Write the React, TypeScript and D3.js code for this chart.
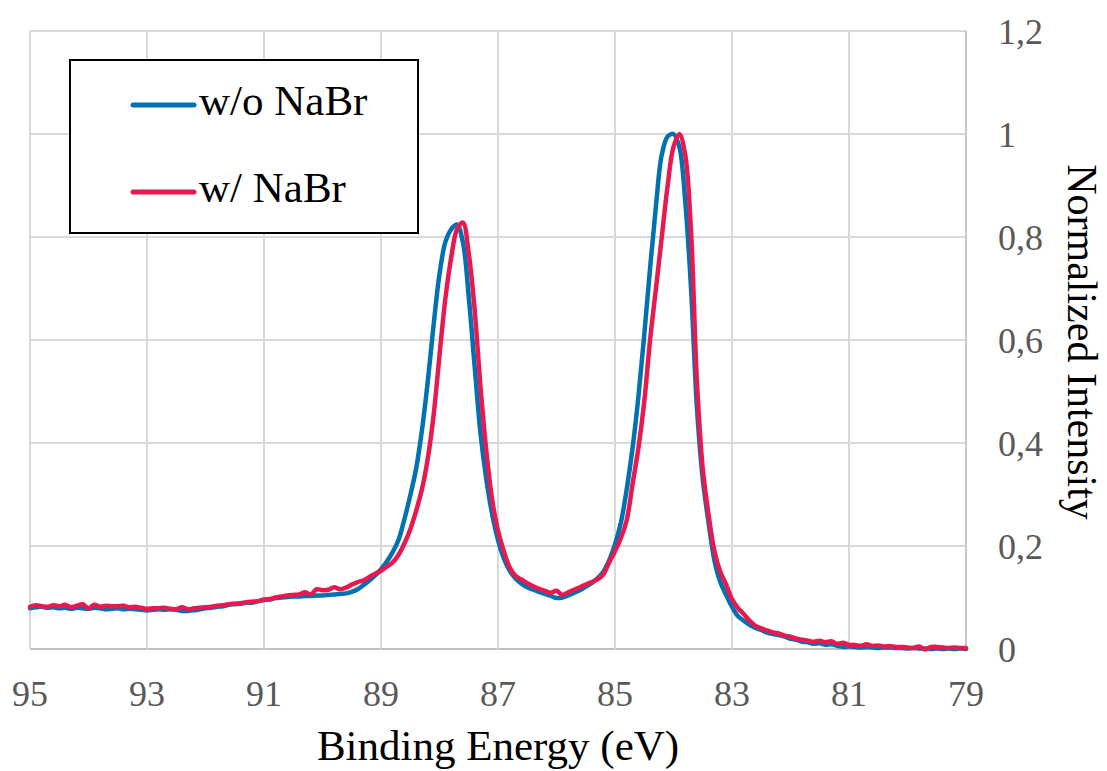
import React from 'react';
import * as d3 from 'd3';

// spectra sampled every 0.1 eV, from 95.0 eV down to 79.0 eV
const energyStart = 95;
const energyStep = 0.1;

const woNaBr = [
  0.079, 0.081, 0.082, 0.080, 0.081, 0.079, 0.080, 0.078, 0.080, 0.079, // 95.0
  0.078, 0.080, 0.079, 0.077, 0.078, 0.079, 0.077, 0.078, 0.077, 0.076, // 94.0
  0.075, 0.076, 0.077, 0.076, 0.077, 0.076, 0.074, 0.074, 0.075, 0.077, // 93.0
  0.079, 0.080, 0.082, 0.083, 0.086, 0.087, 0.088, 0.090, 0.090, 0.093, // 92.0
  0.095, 0.096, 0.099, 0.100, 0.101, 0.102, 0.102, 0.103, 0.103, 0.104, // 91.0
  0.104, 0.105, 0.106, 0.107, 0.108, 0.111, 0.116, 0.124, 0.133, 0.143, // 90.0
  0.155, 0.170, 0.188, 0.212, 0.252, 0.298, 0.350, 0.425, 0.520, 0.630, // 89.0
  0.728, 0.790, 0.815, 0.824, 0.790, 0.684, 0.550, 0.420, 0.330, 0.262, // 88.0
  0.212, 0.176, 0.152, 0.137, 0.127, 0.120, 0.115, 0.111, 0.107, 0.103, // 87.0
  0.099, 0.100, 0.104, 0.109, 0.114, 0.121, 0.128, 0.137, 0.150, 0.172, // 86.0
  0.203, 0.245, 0.310, 0.390, 0.490, 0.610, 0.740, 0.860, 0.960, 0.995, // 85.0
  1.000, 0.975, 0.870, 0.700, 0.470, 0.330, 0.245, 0.172, 0.130, 0.105, // 84.0
  0.082, 0.064, 0.055, 0.047, 0.041, 0.037, 0.032, 0.029, 0.027, 0.024, // 83.0
  0.020, 0.018, 0.014, 0.013, 0.010, 0.011, 0.008, 0.009, 0.006, 0.004, // 82.0
  0.005, 0.004, 0.003, 0.004, 0.003, 0.002, 0.003, 0.003, 0.002, 0.002, // 81.0
  0.001, 0.002, 0.001, 0.001, 0.000, 0.001, 0.000, 0.001, 0.000, 0.001, // 80.0
  0.000, // 79.0
];

const wNaBr = [
  0.082, 0.085, 0.083, 0.082, 0.085, 0.083, 0.086, 0.081, 0.084, 0.087, // 95.0
  0.079, 0.086, 0.082, 0.084, 0.083, 0.083, 0.084, 0.081, 0.082, 0.080, // 94.0
  0.078, 0.079, 0.079, 0.080, 0.078, 0.077, 0.081, 0.077, 0.079, 0.080, // 93.0
  0.081, 0.082, 0.084, 0.085, 0.087, 0.088, 0.089, 0.091, 0.092, 0.093, // 92.0
  0.096, 0.097, 0.100, 0.102, 0.104, 0.105, 0.106, 0.110, 0.106, 0.116, // 91.0
  0.114, 0.115, 0.120, 0.116, 0.119, 0.125, 0.130, 0.133, 0.140, 0.146, // 90.0
  0.152, 0.160, 0.168, 0.183, 0.205, 0.232, 0.268, 0.310, 0.370, 0.455, // 89.0
  0.570, 0.680, 0.760, 0.815, 0.828, 0.768, 0.660, 0.510, 0.385, 0.290, // 88.0
  0.230, 0.190, 0.158, 0.142, 0.135, 0.128, 0.122, 0.117, 0.113, 0.109, // 87.0
  0.113, 0.105, 0.110, 0.115, 0.120, 0.125, 0.130, 0.135, 0.145, 0.168, // 86.0
  0.190, 0.215, 0.250, 0.320, 0.390, 0.480, 0.600, 0.700, 0.800, 0.900, // 85.0
  0.975, 1.000, 0.960, 0.810, 0.520, 0.350, 0.260, 0.190, 0.150, 0.125, // 84.0
  0.097, 0.080, 0.068, 0.055, 0.045, 0.040, 0.036, 0.032, 0.030, 0.026, // 83.0
  0.024, 0.020, 0.018, 0.016, 0.014, 0.016, 0.013, 0.015, 0.010, 0.012, // 82.0
  0.008, 0.008, 0.006, 0.009, 0.006, 0.007, 0.005, 0.006, 0.004, 0.004, // 81.0
  0.003, 0.002, 0.005, -0.001, 0.004, 0.004, 0.003, 0.002, 0.003, 0.002, // 80.0
  0.002, // 79.0
];

const xTicks = [95, 93, 91, 89, 87, 85, 83, 81, 79];
const yTicks = [0, 0.2, 0.4, 0.6, 0.8, 1, 1.2];

const series = [
  { name: 'w/o NaBr', values: woNaBr, color: '#0072b2' },
  { name: 'w/ NaBr', values: wNaBr, color: '#e8194f' },
];

const W = 1107;
const H = 771;
const font = "'Liberation Serif', 'Times New Roman', 'DejaVu Serif', serif";

export default function App() {
  const x = d3.scaleLinear().domain([95, 79]).range([30, 966]);
  const y = d3.scaleLinear().domain([0, 1.2]).range([649, 31]);

  const line = d3
    .line<number>()
    .x((_, i) => x(energyStart - i * energyStep))
    .y((d) => y(d))
    .curve(d3.curveCatmullRom.alpha(0.5));

  const fmt = (v: number) => String(+v.toFixed(1)).replace('.', ',');
  const txt = { fontFamily: font };

  return (
    <svg
      width={W}
      height={H}
      style={{ position: 'absolute', left: 0, top: 0, background: '#fff', fontFamily: font }}
    >
      {/* grid */}
      {yTicks.map((t) => (
        <line
          key={'gy' + t}
          x1={x(95)}
          x2={x(79)}
          y1={y(t)}
          y2={y(t)}
          stroke={t === 0 ? '#bfbfbf' : '#d9d9d9'}
          strokeWidth={2}
        />
      ))}
      {xTicks.map((t) => (
        <line
          key={'gx' + t}
          x1={x(t)}
          x2={x(t)}
          y1={y(1.2)}
          y2={y(0)}
          stroke={t === 79 ? '#c8c8c8' : '#d9d9d9'}
          strokeWidth={2}
        />
      ))}

      {/* tick labels */}
      {xTicks.map((t) => (
        <text
          key={'tx' + t}
          x={x(t)}
          y={706}
          textAnchor="middle"
          fontSize={36}
          fill="#595959"
          style={txt}
        >
          {t}
        </text>
      ))}
      {yTicks.map((t) => (
        <text
          key={'ty' + t}
          x={998}
          y={y(t)}
          dy="0.35em"
          fontSize={36}
          fill="#595959"
          style={txt}
        >
          {fmt(t)}
        </text>
      ))}

      {/* series */}
      {series.map((s) => (
        <path
          key={s.name}
          d={line(s.values) || ''}
          fill="none"
          stroke={s.color}
          strokeWidth={4.5}
          strokeLinejoin="round"
          strokeLinecap="round"
        />
      ))}

      {/* axis titles */}
      <text x={498} y={760} textAnchor="middle" fontSize={43} fill="#000" style={txt}>
        Binding Energy (eV)
      </text>
      <text
        transform="translate(1068,342) rotate(90)"
        textAnchor="middle"
        fontSize={42}
        fill="#000"
        style={txt}
      >
        Normalized Intensity
      </text>

      {/* legend */}
      <rect x={70} y={60} width={348} height={173} fill="#fff" stroke="#000" strokeWidth={2} />
      {series.map((s, i) => (
        <g key={'lg' + s.name} transform={`translate(0,${105 + i * 87})`}>
          <line x1={133} x2={194} y1={0} y2={0} stroke={s.color} strokeWidth={5} strokeLinecap="round" />
          <text x={199} y={10} fontSize={43} fill="#000" style={txt}>
            {s.name}
          </text>
        </g>
      ))}
    </svg>
  );
}
